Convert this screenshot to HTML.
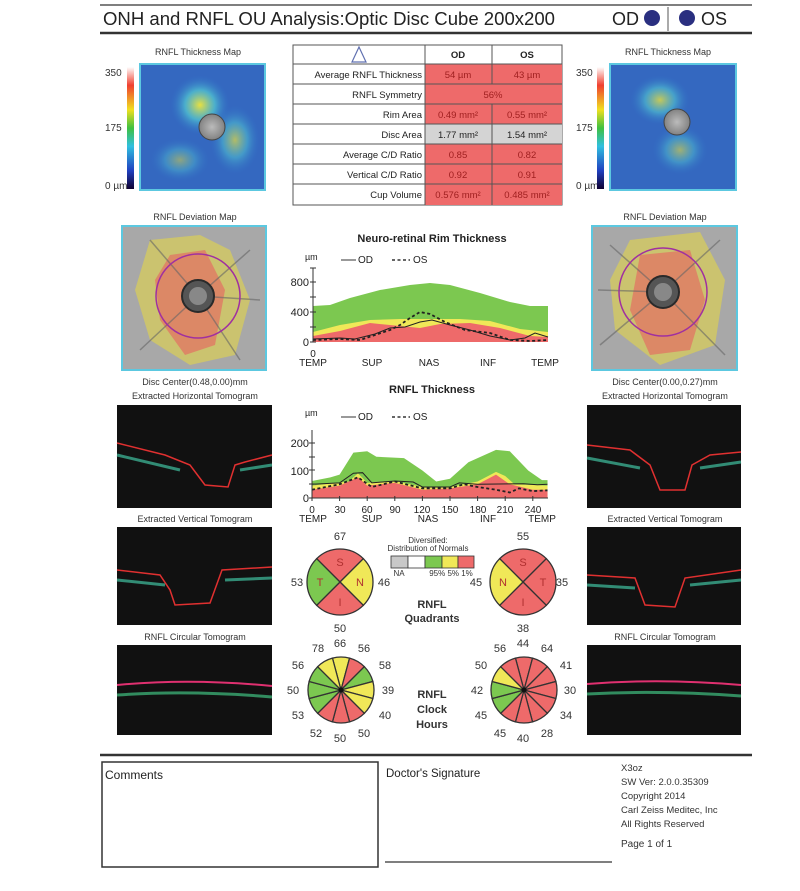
<!DOCTYPE html>
<html><head><meta charset="utf-8"><style>
html,body{margin:0;padding:0;background:#fff;}
svg{display:block;font-family:"Liberation Sans",Arial,sans-serif;}
</style></head><body>
<svg id="s" width="800" height="891" viewBox="0 0 800 891" xmlns="http://www.w3.org/2000/svg">
<defs>
<linearGradient id="cb" x1="0" y1="0" x2="0" y2="1">
<stop offset="0" stop-color="#fff"/><stop offset="0.15" stop-color="#f04030"/><stop offset="0.35" stop-color="#f0e020"/><stop offset="0.5" stop-color="#40c040"/><stop offset="0.65" stop-color="#30c0e0"/><stop offset="0.85" stop-color="#2040c0"/><stop offset="1" stop-color="#100030"/>
</linearGradient>
<radialGradient id="hot" cx="0.5" cy="0.5" r="0.5"><stop offset="0" stop-color="#e8e040"/><stop offset="0.5" stop-color="#50c0d0" stop-opacity="0.8"/><stop offset="1" stop-color="#3070c8" stop-opacity="0"/></radialGradient>
<radialGradient id="gr" cx="0.5" cy="0.5" r="0.6"><stop offset="0" stop-color="#bbb"/><stop offset="1" stop-color="#777"/></radialGradient>
</defs>
<!-- header -->
<line x1="100" y1="5" x2="752" y2="5" stroke="#555" stroke-width="1.5"/>
<line x1="100" y1="33" x2="752" y2="33" stroke="#333" stroke-width="2.5"/>
<line x1="668" y1="7" x2="668" y2="31" stroke="#555" stroke-width="1"/>
<text x="103" y="25" font-size="18" fill="#222" textLength="452" lengthAdjust="spacingAndGlyphs">ONH and RNFL OU Analysis:Optic Disc Cube 200x200</text>
<text x="612" y="25" font-size="18" fill="#222">OD</text>
<circle cx="652" cy="18" r="8" fill="#2a2f80"/>
<circle cx="687" cy="18" r="8" fill="#2a2f80"/>
<text x="701" y="25" font-size="18" fill="#222">OS</text>

<g font-size="9" fill="#333" text-anchor="middle">
<text x="198" y="55">RNFL Thickness Map</text>
<text x="668" y="55">RNFL Thickness Map</text>
<text x="195" y="220">RNFL Deviation Map</text>
<text x="665" y="220">RNFL Deviation Map</text>
<text x="195" y="385">Disc Center(0.48,0.00)mm</text>
<text x="665" y="385">Disc Center(0.00,0.27)mm</text>
<text x="195" y="399">Extracted Horizontal Tomogram</text>
<text x="665" y="399">Extracted Horizontal Tomogram</text>
<text x="195" y="522">Extracted Vertical Tomogram</text>
<text x="665" y="522">Extracted Vertical Tomogram</text>
<text x="195" y="640">RNFL Circular Tomogram</text>
<text x="665" y="640">RNFL Circular Tomogram</text>
</g>
<g font-size="10" fill="#333">
<text x="105" y="76">350</text><text x="105" y="131">175</text><text x="105" y="189">0 µm</text>
<text x="576" y="76">350</text><text x="576" y="131">175</text><text x="576" y="189">0 µm</text>
</g>
<rect x="127" y="67" width="7" height="122" fill="url(#cb)"/>
<rect x="597" y="67" width="7" height="122" fill="url(#cb)"/>
<g>
<rect x="140" y="64" width="125" height="126" fill="#3468c0" stroke="#5cc8e0" stroke-width="2"/>
<ellipse cx="200" cy="105" rx="30" ry="30" fill="url(#hot)"/>
<ellipse cx="235" cy="140" rx="25" ry="35" fill="url(#hot)" opacity="0.7"/>
<ellipse cx="180" cy="160" rx="30" ry="22" fill="url(#hot)" opacity="0.5"/>
<circle cx="212" cy="127" r="13" fill="url(#gr)" stroke="#444"/>
</g>
<g>
<rect x="610" y="64" width="126" height="126" fill="#3468c0" stroke="#5cc8e0" stroke-width="2"/>
<ellipse cx="660" cy="100" rx="30" ry="25" fill="url(#hot)" opacity="0.8"/>
<ellipse cx="680" cy="150" rx="28" ry="25" fill="url(#hot)" opacity="0.6"/>
<circle cx="677" cy="122" r="13" fill="url(#gr)" stroke="#444"/>
</g>

<!-- table -->
<g font-size="9.5" fill="#222">
<rect x="293" y="45" width="269" height="160" fill="#fff" stroke="#555"/>
<rect x="425" y="64" width="137" height="60" fill="#ee6a6a"/>
<rect x="425" y="124" width="137" height="20" fill="#d4d4d4"/>
<rect x="425" y="144" width="137" height="61" fill="#ee6a6a"/>
<g stroke="#555" stroke-width="1">
<line x1="293" y1="64" x2="562" y2="64"/><line x1="293" y1="84" x2="562" y2="84"/><line x1="293" y1="104" x2="562" y2="104"/><line x1="293" y1="124" x2="562" y2="124"/><line x1="293" y1="144" x2="562" y2="144"/><line x1="293" y1="164" x2="562" y2="164"/><line x1="293" y1="184" x2="562" y2="184"/>
<line x1="425" y1="45" x2="425" y2="205"/><line x1="492" y1="45" x2="492" y2="84"/><line x1="492" y1="104" x2="492" y2="205"/>
</g>
<path d="M359 47 L352 62 L366 62 Z" fill="none" stroke="#6070b0" stroke-width="1.2"/>
<text x="458" y="58" text-anchor="middle" font-weight="bold">OD</text>
<text x="527" y="58" text-anchor="middle" font-weight="bold">OS</text>
<g text-anchor="end">
<text x="422" y="78">Average RNFL Thickness</text><text x="422" y="98">RNFL Symmetry</text><text x="422" y="118">Rim Area</text><text x="422" y="138">Disc Area</text><text x="422" y="158">Average C/D Ratio</text><text x="422" y="178">Vertical C/D Ratio</text><text x="422" y="198">Cup Volume</text>
</g>
<g text-anchor="middle" fill="#a02020">
<text x="458" y="78">54 µm</text><text x="527" y="78">43 µm</text>
<text x="493" y="98">56%</text>
<text x="458" y="118">0.49 mm²</text><text x="527" y="118">0.55 mm²</text>
<text x="458" y="138" fill="#222">1.77 mm²</text><text x="527" y="138" fill="#222">1.54 mm²</text>
<text x="458" y="158">0.85</text><text x="527" y="158">0.82</text>
<text x="458" y="178">0.92</text><text x="527" y="178">0.91</text>
<text x="458" y="198">0.576 mm²</text><text x="527" y="198">0.485 mm²</text>
</g>
</g>

<!-- deviation maps -->
<g>
<rect x="122" y="226" width="144" height="144" fill="#a8a8a8" stroke="#5cc8e0" stroke-width="2"/>
<path d="M150 240 L200 235 L230 250 L250 300 L235 355 L190 365 L150 340 L135 290 Z" fill="#e8d840" opacity="0.55"/>
<path d="M170 255 L205 250 L225 290 L215 345 L185 355 L160 320 L155 280 Z" fill="#e86060" opacity="0.6"/>
<path d="M198 296 L150 240 M198 296 L250 250 M198 296 L140 350 M198 296 L240 360 M198 296 L260 300" stroke="#666" stroke-width="1.5" fill="none" opacity="0.6"/>
<circle cx="198" cy="296" r="42" fill="none" stroke="#a030a0" stroke-width="1.5"/>
<circle cx="198" cy="296" r="16" fill="#555" stroke="#2a2a2a" stroke-width="2"/>
<circle cx="198" cy="296" r="9" fill="#888"/>
</g>
<g>
<rect x="592" y="226" width="145" height="144" fill="#a8a8a8" stroke="#5cc8e0" stroke-width="2"/>
<path d="M630 240 L700 232 L725 280 L715 345 L660 365 L615 330 L610 280 Z" fill="#e8d840" opacity="0.55"/>
<path d="M640 255 L690 250 L705 300 L690 350 L650 355 L630 310 Z" fill="#e86060" opacity="0.6"/>
<path d="M663 292 L610 245 M663 292 L720 240 M663 292 L600 345 M663 292 L725 355 M663 292 L598 290" stroke="#666" stroke-width="1.5" fill="none" opacity="0.6"/>
<circle cx="663" cy="292" r="44" fill="none" stroke="#a030a0" stroke-width="1.5"/>
<circle cx="663" cy="292" r="16" fill="#555" stroke="#2a2a2a" stroke-width="2"/>
<circle cx="663" cy="292" r="9" fill="#888"/>
</g>

<!-- tomograms -->
<g>
<rect x="117" y="405" width="155" height="103" fill="#111"/>
<path d="M117 443 L165 455 L190 465 L205 485 L228 487 L235 465 L245 462 L272 455" fill="none" stroke="#e03030" stroke-width="1.5"/>
<path d="M117 455 L180 470 M240 470 L272 465" stroke="#40c0a0" stroke-width="3" fill="none" opacity="0.7"/>
<rect x="117" y="527" width="155" height="98" fill="#111"/>
<path d="M117 570 L160 575 L170 590 L175 605 L210 603 L222 570 L272 567" fill="none" stroke="#e03030" stroke-width="1.5"/>
<path d="M117 580 L165 585 M225 580 L272 578" stroke="#40c0a0" stroke-width="3" fill="none" opacity="0.7"/>
<rect x="117" y="645" width="155" height="90" fill="#111"/>
<path d="M117 685 Q190 678 272 686" fill="none" stroke="#e03070" stroke-width="2"/>
<path d="M117 695 Q190 690 272 697" fill="none" stroke="#40c080" stroke-width="3" opacity="0.7"/>
<rect x="587" y="405" width="154" height="103" fill="#111"/>
<path d="M587 445 L630 450 L650 465 L660 490 L685 490 L692 465 L710 455 L741 452" fill="none" stroke="#e03030" stroke-width="1.5"/>
<path d="M587 458 L640 468 M700 468 L741 462" stroke="#40c0a0" stroke-width="3" fill="none" opacity="0.7"/>
<rect x="587" y="527" width="154" height="98" fill="#111"/>
<path d="M587 575 L635 578 L645 605 L675 607 L685 578 L741 570" fill="none" stroke="#e03030" stroke-width="1.5"/>
<path d="M587 585 L635 588 M690 585 L741 580" stroke="#40c0a0" stroke-width="3" fill="none" opacity="0.7"/>
<rect x="587" y="645" width="154" height="90" fill="#111"/>
<path d="M587 684 Q660 678 741 685" fill="none" stroke="#e03070" stroke-width="2"/>
<path d="M587 694 Q660 690 741 696" fill="none" stroke="#40c080" stroke-width="3" opacity="0.7"/>
</g>

<g id="charts"></g>
<g font-size="11" fill="#222">
<text x="432" y="242" text-anchor="middle" font-weight="bold">Neuro-retinal Rim Thickness</text>
<text x="305" y="260" font-size="9">µm</text>
<line x1="341" y1="260" x2="356" y2="260" stroke="#333"/><text x="358" y="263" font-size="10">OD</text>
<line x1="392" y1="260" x2="410" y2="260" stroke="#333" stroke-width="1.5" stroke-dasharray="3,2.5"/><text x="413" y="263" font-size="10">OS</text>
<text x="309" y="286" text-anchor="end">800</text><text x="309" y="316" text-anchor="end">400</text><text x="309" y="346" text-anchor="end">0</text>
<g font-size="10" text-anchor="middle"><text x="313" y="357">0</text><text x="313" y="366">TEMP</text><text x="372" y="366">SUP</text><text x="429" y="366">NAS</text><text x="488" y="366">INF</text><text x="545" y="366">TEMP</text></g>

<text x="432" y="393" text-anchor="middle" font-weight="bold">RNFL Thickness</text>
<text x="305" y="416" font-size="9">µm</text>
<line x1="341" y1="417" x2="356" y2="417" stroke="#333"/><text x="358" y="420" font-size="10">OD</text>
<line x1="392" y1="417" x2="410" y2="417" stroke="#333" stroke-width="1.5" stroke-dasharray="3,2.5"/><text x="413" y="420" font-size="10">OS</text>
<text x="309" y="447" text-anchor="end">200</text><text x="309" y="475" text-anchor="end">100</text><text x="309" y="502" text-anchor="end">0</text>
<g font-size="10" text-anchor="middle"><text x="312" y="513">0</text><text x="340" y="513">30</text><text x="367" y="513">60</text><text x="395" y="513">90</text><text x="422" y="513">120</text><text x="450" y="513">150</text><text x="478" y="513">180</text><text x="505" y="513">210</text><text x="533" y="513">240</text>
<text x="313" y="522">TEMP</text><text x="372" y="522">SUP</text><text x="428" y="522">NAS</text><text x="488" y="522">INF</text><text x="542" y="522">TEMP</text></g>
</g>

<g id="pies"></g>
<g font-size="11" fill="#333" text-anchor="middle">
<text x="340" y="540">67</text><text x="297" y="586">53</text><text x="384" y="586">46</text><text x="340" y="632">50</text>
<text x="523" y="540">55</text><text x="476" y="586">45</text><text x="562" y="586">35</text><text x="523" y="632">38</text>
<g font-weight="bold" font-size="11"><text x="432" y="608">RNFL</text><text x="432" y="622">Quadrants</text>
<text x="432" y="698">RNFL</text><text x="432" y="713">Clock</text><text x="432" y="728">Hours</text></g>
<g font-size="8"><text x="428" y="543">Diversified:</text><text x="428" y="551">Distribution of Normals</text>
<text x="399" y="576">NA</text><text x="451" y="576">95% 5% 1%</text></g>
<text x="340" y="647">66</text><text x="364" y="652">56</text><text x="385" y="669">58</text><text x="388" y="694">39</text><text x="385" y="719">40</text><text x="364" y="737">50</text><text x="340" y="742">50</text><text x="316" y="737">52</text><text x="298" y="719">53</text><text x="293" y="694">50</text><text x="298" y="669">56</text><text x="318" y="652">78</text>
<text x="523" y="647">44</text><text x="547" y="652">64</text><text x="566" y="669">41</text><text x="570" y="694">30</text><text x="566" y="719">34</text><text x="547" y="737">28</text><text x="523" y="742">40</text><text x="500" y="737">45</text><text x="481" y="719">45</text><text x="477" y="694">42</text><text x="481" y="669">50</text><text x="500" y="652">56</text>
</g>
<g stroke="#333" stroke-width="0.8">
<rect x="391" y="556" width="17" height="12" fill="#c8c8c8"/><rect x="408" y="556" width="17" height="12" fill="#fff"/><rect x="425" y="556" width="17" height="12" fill="#7cc850"/><rect x="442" y="556" width="16" height="12" fill="#f0e858"/><rect x="458" y="556" width="16" height="12" fill="#ee6a6a"/>
</g>

<line x1="100" y1="755" x2="752" y2="755" stroke="#333" stroke-width="2.5"/>
<rect x="102" y="762" width="276" height="105" fill="none" stroke="#333" stroke-width="1.5"/>
<text x="105" y="779" font-size="12" fill="#222">Comments</text>
<text x="386" y="777" font-size="11.5" fill="#222">Doctor's Signature</text>
<line x1="385" y1="862" x2="612" y2="862" stroke="#333" stroke-width="1.2"/>
<g font-size="9.5" fill="#333"><text x="621" y="771">X3oz</text><text x="621" y="785">SW Ver: 2.0.0.35309</text><text x="621" y="799">Copyright 2014</text><text x="621" y="813">Carl Zeiss Meditec, Inc</text><text x="621" y="827">All Rights Reserved</text><text x="621" y="847" font-size="10">Page 1 of 1</text></g>
</svg>
<script>
var NS="http://www.w3.org/2000/svg";
function el(p,t,a){var e=document.createElementNS(NS,t);for(var k in a)e.setAttribute(k,a[k]);p.appendChild(e);return e;}
var C=document.getElementById("charts");
function pts(a){return a.map(function(p){return p[0]+","+p[1]}).join(" ");}
function area(top,base,col){var a=top.slice();a.push([top[top.length-1][0],base]);a.push([top[0][0],base]);el(C,"polygon",{points:pts(a),fill:col});}
area([[313,306],[330,305],[350,298],[380,290],[410,285],[430,283],[450,285],[480,293],[510,302],[530,306],[548,306]],342,"#7cc850");
area([[313,332],[340,325],[370,320],[400,319],[430,319],[460,319],[490,321],[520,329],[548,332]],342,"#f0e858");
area([[313,336],[340,331],[370,323],[400,326],[420,328],[440,324],[470,323],[500,328],[530,336],[548,337]],342,"#ee6a6a");
el(C,"polyline",{points:pts([[313,339],[340,338],[355,339],[375,334],[390,328],[405,327],[420,322],[432,320],[450,325],[470,330],[490,336],[510,340],[525,338],[535,333],[548,337]]),fill:"none",stroke:"#222","stroke-width":1});
el(C,"polyline",{points:pts([[313,340],[340,339],[360,340],[375,335],[390,330],[400,325],[410,318],[420,312],[430,314],[445,322],[465,330],[490,333],[510,340],[530,341],[548,340]]),fill:"none",stroke:"#222","stroke-width":1.8,"stroke-dasharray":"3,2.5"});
el(C,"line",{x1:313,y1:268,x2:313,y2:342,stroke:"#333"});
[282,297,312,327,342,268].forEach(function(y){el(C,"line",{x1:310,y1:y,x2:316,y2:y,stroke:"#333"});});
function R(d){return d.map(function(p){return [312+0.92*p[0],498-0.275*p[1]]});}
area(R([[0,62],[20,75],[30,85],[45,165],[60,170],[70,150],[100,145],[120,100],[135,60],[150,70],[170,130],[200,175],[215,170],[235,100],[250,65],[256,65]]),498,"#7cc850");
area(R([[0,45],[40,60],[50,90],[60,55],[90,62],[120,40],[150,40],[180,60],[200,95],[210,80],[220,50],[256,45]]),498,"#f0e858");
area(R([[0,30],[30,45],[50,75],[60,45],[90,55],[120,30],[150,35],[180,50],[200,85],[215,50],[240,30],[256,30]]),498,"#ee6a6a");
el(C,"polyline",{points:pts(R([[0,50],[30,55],[45,90],[55,92],[65,55],[90,62],[110,58],[120,40],[150,40],[160,55],[180,50],[230,52],[245,48],[256,50]])),fill:"none",stroke:"#222","stroke-width":1});
el(C,"polyline",{points:pts(R([[0,30],[30,50],[50,75],[65,40],[90,60],[120,35],[150,35],[165,50],[180,40],[200,30],[215,20],[225,35],[240,25],[256,28]])),fill:"none",stroke:"#222","stroke-width":1.8,"stroke-dasharray":"3,2.5"});
el(C,"line",{x1:312,y1:430,x2:312,y2:498,stroke:"#333"});
el(C,"line",{x1:312,y1:498,x2:548,y2:498,stroke:"#333"});
[443,457,470,484,498].forEach(function(y){el(C,"line",{x1:309,y1:y,x2:315,y2:y,stroke:"#333"});});
for(var t=0;t<=240;t+=30){var x=312+0.92*t;el(C,"line",{x1:x,y1:496,x2:x,y2:501,stroke:"#333"});}
var P=document.getElementById("pies");
var G="#7cc850",Y="#f0e858",Rd="#ee6a6a";
function sector(cx,cy,r,a0,a1,col){var f=Math.PI/180;var x0=cx+r*Math.sin(a0*f),y0=cy-r*Math.cos(a0*f),x1=cx+r*Math.sin(a1*f),y1=cy-r*Math.cos(a1*f);
el(P,"path",{d:"M"+cx+","+cy+" L"+x0+","+y0+" A"+r+","+r+" 0 0,1 "+x1+","+y1+" Z",fill:col,stroke:"#333","stroke-width":1.3});}
function quad(cx,cy,cols,labs){for(var i=0;i<4;i++)sector(cx,cy,33,-45+90*i,45+90*i,cols[i]);
var pos=[[0,-20],[20,0],[0,20],[-20,0]];for(var i=0;i<4;i++){var t=el(P,"text",{x:cx+pos[i][0],y:cy+pos[i][1]+4,"text-anchor":"middle","font-size":11,fill:"#b03030"});t.textContent=labs[i];}}
quad(340,582,[Rd,Y,Rd,G],["S","N","I","T"]);
quad(523,582,[Rd,Rd,Rd,Y],["S","T","I","N"]);
function clock(cx,cy,cols){for(var i=0;i<12;i++)sector(cx,cy,33,-15+30*i,15+30*i,cols[i]);el(P,"circle",{cx:cx,cy:cy,r:2.5,fill:"#111"});}
clock(341,690,[Y,Rd,G,Y,Y,Rd,Rd,Rd,G,G,G,Y]);
clock(524,690,[Rd,Rd,Rd,Rd,Rd,Rd,Rd,Rd,G,G,Y,Rd]);
</script>
</body></html>
